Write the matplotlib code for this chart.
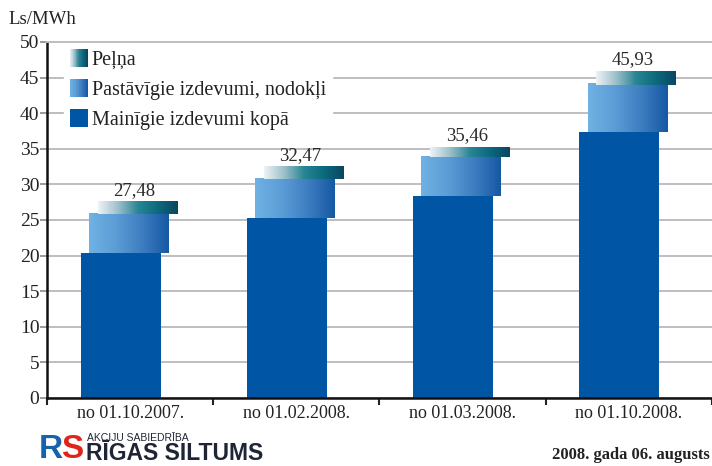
import matplotlib
matplotlib.use("Agg")
import matplotlib.pyplot as plt
import numpy as np
from matplotlib.colors import LinearSegmentedColormap
from matplotlib.legend_handler import HandlerBase
from matplotlib.patches import Rectangle

# values (Ls/MWh)
periods = ["no 01.10.2007.", "no 01.02.2008.", "no 01.03.2008.", "no 01.10.2008."]
variable_costs = [20.4, 25.3, 28.4, 37.3]   # Mainīgie izdevumi kopā
fixed_costs = [5.6, 5.6, 5.6, 6.8]          # Pastāvīgie izdevumi, nodokļi
profit = [1.7, 1.7, 1.4, 1.9]               # Peļņa
total_labels = ["27,48", "32,47", "35,46", "45,93"]

SERIF = ["Liberation Serif", "DejaVu Serif"]
NARROW = ["Liberation Sans Narrow", "Liberation Sans", "DejaVu Sans"]

DARK_BLUE = "#0055A5"
fixed_cmap = LinearSegmentedColormap.from_list(
    "fixed", ["#70B2E3", "#5C9DD6", "#3E7DC0", "#1558A3"])
profit_cmap = LinearSegmentedColormap.from_list(
    "profit", ["#EEF3F6", "#9DC0CA", "#2A8594", "#0B6A7E", "#0A4660"])
dark_cmap = LinearSegmentedColormap.from_list("dark", [DARK_BLUE, DARK_BLUE])


class GradientKey:
    def __init__(self, cmap):
        self.cmap = cmap


class GradientHandler(HandlerBase):
    def create_artists(self, legend, orig_handle, xdescent, ydescent,
                       width, height, fontsize, trans):
        n = 24
        side = width
        y0 = -ydescent + (height - side) / 2
        out = []
        for i in range(n):
            r = Rectangle((-xdescent + i * side / n, y0), side / n * 1.05,
                          side, facecolor=orig_handle.cmap(i / (n - 1)),
                          edgecolor="none", transform=trans)
            out.append(r)
        return out


def fill_gradient(ax, bars, cmap):
    grad = np.linspace(0, 1, 256).reshape(1, -1)
    for b in bars:
        x, y = b.get_x(), b.get_y()
        w, h = b.get_width(), b.get_height()
        ax.imshow(grad, cmap=cmap, extent=[x, x + w, y, y + h],
                  aspect="auto", zorder=b.get_zorder(), interpolation="bilinear")
        b.set_facecolor("none")


plt.rcParams["font.family"] = SERIF
fig = plt.figure(figsize=(7.12, 4.66), dpi=100)
ax = fig.add_axes([0.066, 0.146, 0.934, 0.764])

x = np.arange(len(periods))
width = 0.48
var_arr = np.array(variable_costs)
fix_arr = np.array(fixed_costs)
prof_arr = np.array(profit)

b_var = ax.bar(x - 0.057, var_arr, width, color=DARK_BLUE, zorder=2)
b_fix = ax.bar(x - 0.008, fix_arr, width, bottom=var_arr, zorder=3)
b_prof = ax.bar(x + 0.045, prof_arr, width, bottom=var_arr + fix_arr - 0.1,
                zorder=4)
fill_gradient(ax, b_fix, fixed_cmap)
fill_gradient(ax, b_prof, profit_cmap)

for b, lab in zip(b_prof, total_labels):
    ax.annotate(lab, (b.get_x() + b.get_width() / 2 - 0.02, b.get_y() + b.get_height()),
                xytext=(0, 2), textcoords="offset points", ha="center",
                va="bottom", fontsize=13.5, color="#2a2a2a", family=SERIF)

ax.set_xlim(-0.5, 3.5)
ax.set_ylim(0, 50)
ax.set_yticks(np.arange(0, 51, 5))
ax.yaxis.grid(True, color="#BDBDC3", linewidth=1.4, zorder=1)
ax.set_axisbelow(True)

ax.set_xticks(x)
ax.set_xticklabels(periods)
ax.set_xticks(np.arange(-0.5, 4.0, 1.0), minor=True)
ax.tick_params(axis="x", which="major", length=0, pad=5, labelsize=13,
               labelcolor="#222222")
ax.tick_params(axis="x", which="minor", length=5, width=1.5, color="#222222")
ax.tick_params(axis="y", length=5, width=1.2, color="#8a8a8a", pad=0.5,
               labelsize=14, labelcolor="#222222")

ax.spines["right"].set_visible(False)
ax.spines["top"].set_color("#BDBDC3")
ax.spines["top"].set_linewidth(1.4)
ax.spines["left"].set_color("#111111")
ax.spines["left"].set_linewidth(1.8)
ax.spines["bottom"].set_color("#111111")
ax.spines["bottom"].set_linewidth(1.8)

handles = [GradientKey(profit_cmap), GradientKey(fixed_cmap), GradientKey(dark_cmap)]
labels = ["Peļņa", "Pastāvīgie izdevumi, nodokļi", "Mainīgie izdevumi kopā"]
leg = ax.legend(handles, labels, handler_map={GradientKey: GradientHandler()},
                loc="upper left", bbox_to_anchor=(0.025, 0.995), borderaxespad=0,
                frameon=True, fancybox=False, framealpha=1, edgecolor="white",
                facecolor="white", handlelength=0.9,
                handleheight=0.9, handletextpad=0.2, labelspacing=0.48,
                borderpad=0.3, prop={"family": SERIF, "size": 14.5})
for t in leg.get_texts():
    t.set_color("#222222")

fig.text(8 / 712, 1 - 20 / 466, "Ls/MWh", fontsize=13.5, va="center",
         ha="left", color="#222222", family=SERIF)

# company logo and date
fig.text(39 / 712, 1 - 465 / 466, "R", fontsize=24, fontweight="bold",
         color="#1862AC", family=NARROW, va="bottom")
fig.text(61 / 712, 1 - 465 / 466, "S", fontsize=24, fontweight="bold",
         color="#E2231A", family=NARROW, va="bottom")
fig.text(87 / 712, 1 - 438 / 466, "AKCIJU SABIEDRĪBA", fontsize=7.5,
         color="#1f2535", family=NARROW, va="center")
fig.text(86 / 712, 1 - 465 / 466, "RĪGAS SILTUMS", fontsize=16.5,
         fontweight="bold", color="#1f2535", family=NARROW, va="bottom")
fig.text(710 / 712, 1 - 455 / 466, "2008. gada 06. augusts", fontsize=12,
         fontweight="bold", color="#222222", family=SERIF, ha="right",
         va="center")

fig.savefig("out.png", dpi=100)
